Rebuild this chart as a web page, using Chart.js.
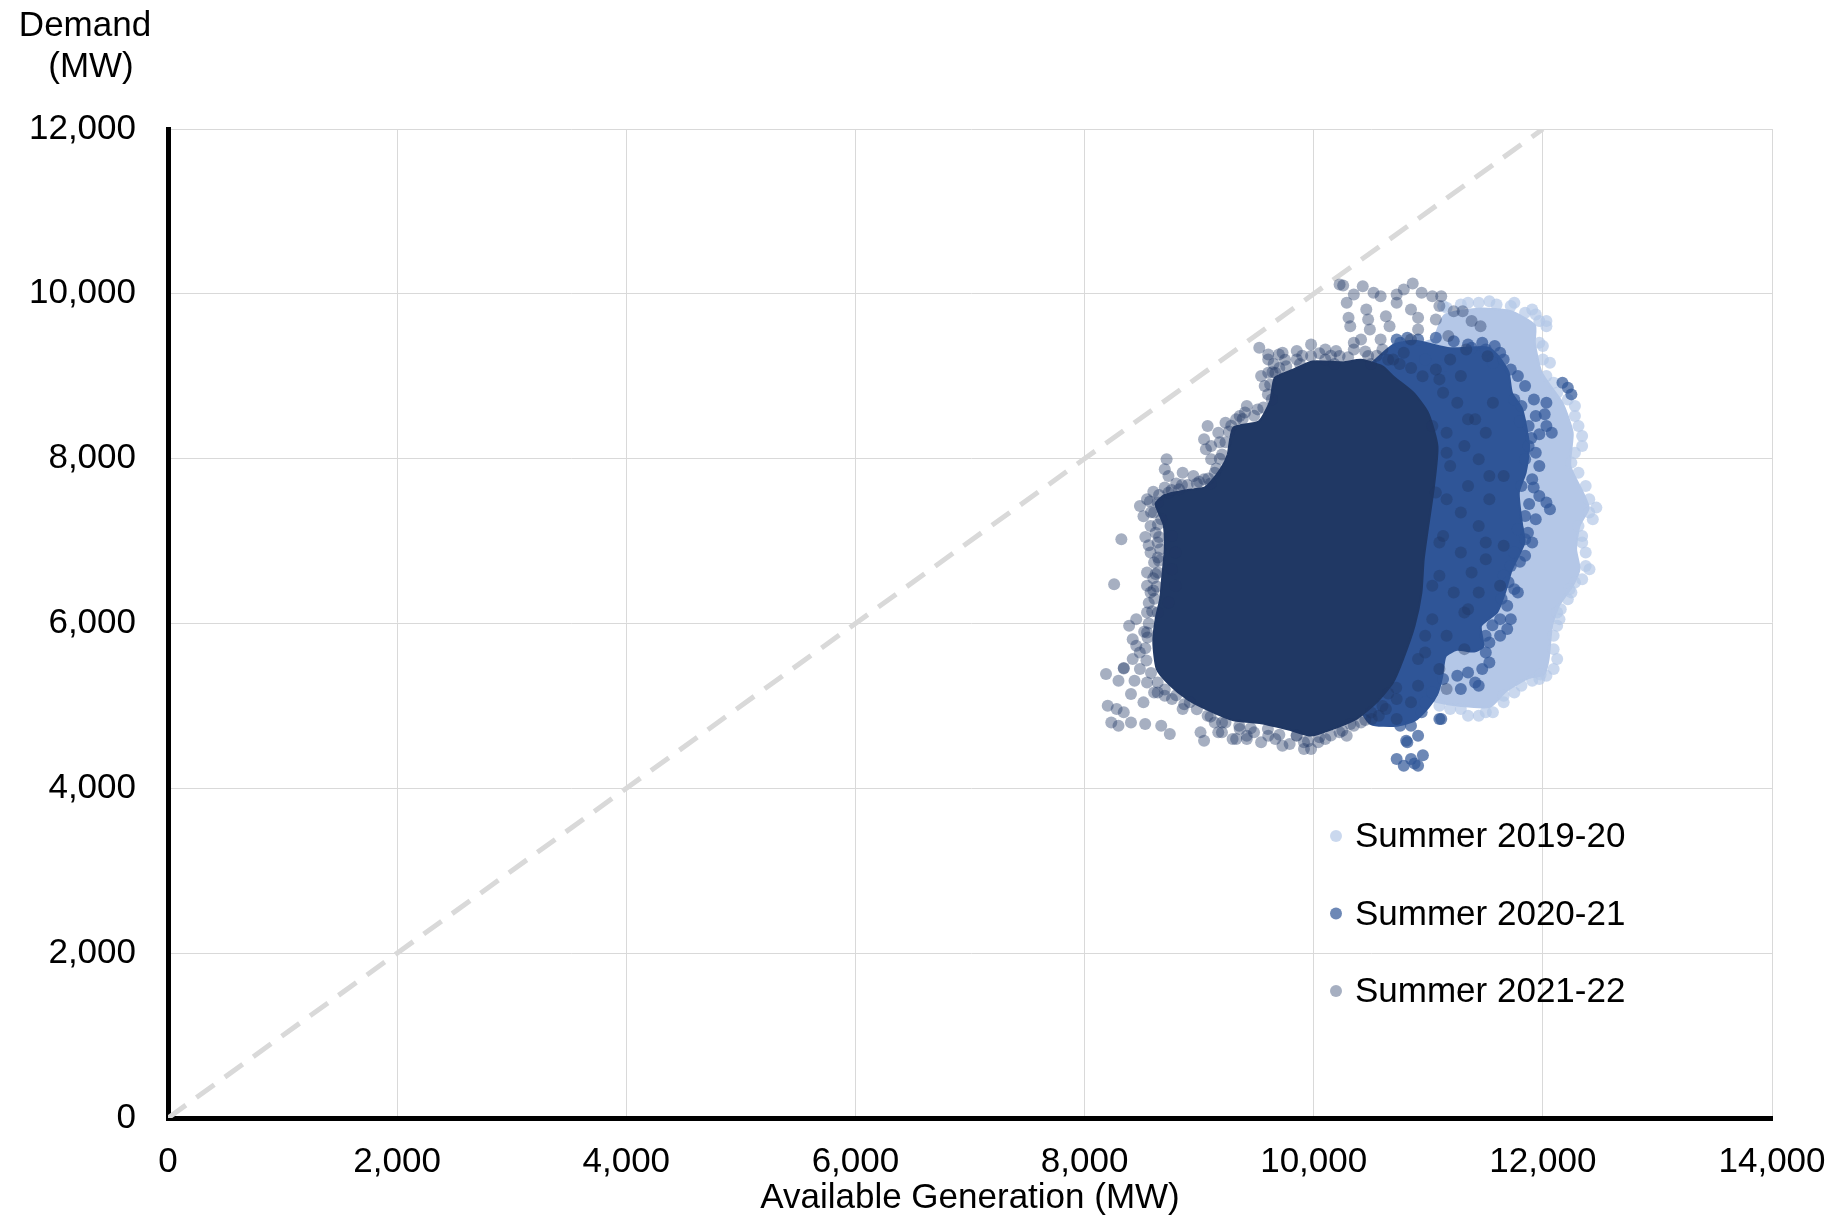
<!DOCTYPE html>
<html><head><meta charset="utf-8">
<script src="https://cdn.jsdelivr.net/npm/chart.js@4/dist/chart.umd.min.js"></script>
<style>html,body{margin:0;padding:0;background:#fff;}#wrap{width:1840px;height:1222px;}</style>
</head><body><div id="wrap"><canvas id="c" width="1840" height="1222"></canvas></div>
<script>
// ---------- DATA (MW) ----------
const seriesLabels = ['Summer 2019-20', 'Summer 2020-21', 'Summer 2021-22'];
const xTickLabels = ['0', '2,000', '4,000', '6,000', '8,000', '10,000', '12,000', '14,000'];
const yTickLabels = ['0', '2,000', '4,000', '6,000', '8,000', '10,000', '12,000'];
const xAxisTitle = 'Available Generation (MW)';
const yAxisTitleLines = ['Demand', '(MW)'];
const parityLine = [[0, 0], [12000, 12000]];

// dense body of each season's cloud (outline of the solid region)
const summer1920Body = [[11050,9450],[11140,9740],[11440,9820],[11720,9790],[11930,9620],[11930,9406],[11990,9042],[12170,8679],[12260,8315],[12240,7911],[12350,7588],[12400,7400],[12320,7184],[12290,6901],[12320,6659],[12260,6457],[12140,6215],[12080,5972],[12050,5568],[12010,5380],[11880,5340],[11680,5180],[11540,4990],[11284,5000],[11035,5060],[10800,5150],[10800,9300],[11050,9450]];
const summer2021Body = [[10500,9150],[10693,9380],[10880,9430],[11191,9340],[11520,9350],[11620,9230],[11700,9050],[11730,8800],[11820,8600],[11880,8154],[11850,7831],[11790,7588],[11820,7184],[11840,6982],[11730,6659],[11670,6376],[11600,6134],[11460,5972],[11480,5720],[11400,5660],[11250,5680],[11150,5600],[11120,5350],[11080,5150],[11000,4980],[10880,4820],[10724,4760],[10500,4780],[10400,5000],[10500,9150]];
const summer2122Body = [[9250,8050],[9300,8380],[9520,8450],[9620,8700],[9660,8980],[9820,9080],[9990,9180],[10257,9170],[10413,9200],[10600,9120],[10700,8990],[10870,8800],[11000,8550],[11080,8150],[11050,7669],[11000,7184],[10960,6780],[10940,6376],[10880,5972],[10780,5568],[10690,5280],[10560,5060],[10380,4850],[10163,4720],[9977,4640],[9790,4710],[9541,4790],[9292,4830],[9080,4950],[8900,5080],[8740,5260],[8630,5450],[8600,5770],[8620,6050],[8660,6300],[8680,6600],[8700,6900],[8690,7200],[8620,7450],[8700,7560],[8900,7620],[9050,7650],[9150,7800],[9220,7950],[9250,8050]];

// individual observations on the edges of each cloud
const summer1920Points = [
[11160,9830],[11284,9871],[11440,9891],[11596,9871],[11720,9851],[11845,9770],[11969,9669],[12031,9669],[11969,9406],[12000,9204],[12031,9002],[12125,8800],[12280,8638],[12311,8396],[12343,8154],[12249,7952],[12374,7669],[12467,7406],[12405,7346],[12311,7184],[12343,6982],[12374,6699],[12280,6497],[12218,6295],[12125,6134],[12094,5851],[12125,5568],[12031,5366],[11907,5305],[11751,5164],[11658,5043],[11564,4922],[11440,4881],[11284,4962],[11097,5003],[10973,5083],[9012,7507],[8825,6578],[12407,6659],[12233,6416],[12145,6053],[11980,5380],
[11907,9810],[12031,9608],[12000,9366],[12062,9164],[12094,8921],[12218,8719],[12280,8517],[12343,8275],[12280,8073],[12311,7830],[12405,7507],[12436,7265],[12343,7063],[12374,6861],[12343,6538],[12249,6376],[12156,6174],[12125,5972],[12094,5689],[12094,5447],[11969,5326],[11813,5245],[11658,5124],[11502,4922],[11347,4881],[11191,4962],[11129,9851],[11347,9891],[11533,9911],[11751,9891],[11938,9749]
];
const summer2021Points = [
[10724,9447],[10817,9467],[11066,9467],[11347,9386],[11471,9406],[11580,9366],[11564,9164],[11720,9083],[11129,9123],[10973,9204],[11845,8881],[11922,8719],[12031,8679],[12016,8538],[12031,8396],[11969,8295],[12078,8315],[12171,8921],[12218,8861],[12249,8780],[11813,8638],[11938,8517],[11876,8154],[11969,7911],[11907,7750],[11969,7548],[12031,7467],[12062,7386],[11845,7305],[11782,7144],[11907,6982],[11845,6821],[11720,6699],[11751,6417],[11689,6214],[11720,6053],[11627,5851],[11502,5649],[11471,5447],[11409,5285],[11347,5406],[11253,5366],[11129,5326],[11113,4841],[10942,4922],[10849,4760],[10755,4760],[10911,4639],[10817,4558],[10724,4356],[10786,4275],[10849,4356],[10911,4275],[11097,4841],[10807,4578],[10953,4400],[10880,4300],
[11658,9204],[11782,9002],[11751,8719],[11876,8396],[11845,7992],[11938,8073],[11813,7669],[11938,7265],[11845,7023],[11751,6861],[11658,6578],[11782,6376],[11627,6053],[11689,5932],[11533,5770],[11533,5528],[11440,5245],[11284,5205],[11035,5164],[10973,5043],[10755,9406],[10911,9447],[11222,9426],[11378,9345],[11502,9325],[11627,9285],
[11800,8450],[11900,8250],[11920,7650],[11880,7450],[11870,7100],[11800,6750],[11700,6500],[11640,6300],[11560,5980],[11500,5850]
];
const summer2122Points = [
[10226,10113],[10257,10101],[10350,9992],[10428,10093],[10522,10012],[10584,9972],[10288,9891],[10304,9709],[10319,9608],[10459,9810],[10475,9689],[10490,9568],[10413,9447],[10350,9406],[10630,9729],[10724,9992],[10786,10053],[10864,10125],[10724,9891],[10849,9810],[10911,9709],[10942,10012],[11035,9972],[11113,9972],[11097,9851],[11066,9689],[11222,9790],[11300,9790],[11378,9669],[11456,9608],[10911,9568],[10849,9447],[11175,9487],[11331,9325],[11518,9244],[10662,9608],[10584,9447],
[9525,9346],[9603,9265],[9696,9265],[9852,9305],[9977,9386],[10101,9325],[10195,9305],[9603,9042],[9572,8881],[9634,8719],[9510,8598],[9354,8517],[9230,8437],[9074,8396],[9043,8235],[9059,8113],[9105,7992],[9136,7830],
[9603,9204],[9728,9285],[9852,9204],[9977,9245],[10101,9204],[10226,9245],[10350,9325],[10475,9245],[10600,9325],[10693,9204],[10786,9285],[9665,9043],[9541,9002],[9416,8638],[9323,8477],[9167,8315],[9105,8154],
[9650,9150],[9750,9200],[9900,9250],[10050,9280],[10150,9250],[10300,9230],[10450,9300],[10550,9250],[10650,9200],[10750,9150],[10850,9100],[10950,9000],[9700,9100],[9880,9150],[10180,9150],[10500,9150],[9400,8560],[9280,8400],[9180,8200],[9180,8000],
[8716,7992],[8700,7871],[8732,7790],[8856,7830],[8950,7790],[9043,7750],[8483,7427],[8545,7507],[8638,7467],[8732,7588],[8825,7629],[8607,7346],[8669,7265],[8576,7184],[8638,6982],[8576,6861],[8607,6740],[8545,6619],[8576,6376],[8545,6457],[8321,7023],[8258,6477],[8763,7063],[8794,6861],[8763,6659],[8794,6457],[8732,6255],[8389,5972],[8451,6053],[8545,6134],[8638,6134],[8420,5810],[8482,5649],
[8514,7300],[8530,7050],[8560,6950],[8600,6550],[8560,6250],[8520,5900],[8600,7600],[8700,7650],[8800,7700],[8900,7680],[9000,7720],[9100,7700],[8620,7100],[8640,6800],[8620,6600],[8600,6400],
[8650,7560],[8760,7620],[8850,7680],[8980,7700],[9080,7760],[9150,7880],[9200,8050],[9230,8200],[9260,8330],[9380,8480],[9480,8520],[9560,8620],[9600,8780],[9620,8900],[9640,9050],[9760,9120],
[8580,5400],[8540,5550],[8530,5700],[8550,5830],[8560,6000],[8590,6150],[8610,6300],[8630,6450],[8640,6620],[8650,6760],[8660,6900],[8650,7050],[8640,7200],[8580,7350],[8570,7480],
[8700,5200],[8800,5130],[8870,5020],[8980,4960],[9100,4870],[9200,4800],[9350,4760],[9450,4730],[9600,4720],[9700,4650],[9850,4640],[9950,4570],[10050,4620],[10150,4640],[10250,4700],[10320,4780],[10450,4830],[10500,4920],[10600,5000],[10650,5150],[10720,5220],
[8342,5455],[8342,5460],[8187,5386],[8296,5305],[8436,5305],[8638,5285],[8607,5164],[8700,5124],[8405,5144],[8202,5003],[8280,4962],[8342,4922],[8233,4800],[8296,4760],[8405,4800],[8514,5043],[8529,4780],[8669,4760],[8744,4659],[9012,4679],[9043,4578],[9136,4800],[9199,4679],[9323,4598],[9416,4598],[9603,4639],[9790,4538],[9915,4558],[9977,4477],[10101,4598],[10288,4639],[10413,4800],[10568,4881],
[8918,5043],[9074,4881],[9230,4800],[9354,4720],[9479,4679],[9665,4598],[9852,4639],[10039,4558],[10226,4679],[10350,4760],[10506,4841],[10630,4962],[10724,5083],[9541,4558],[9727,4518],[9915,4477],[9416,4639],[9167,4679],[9292,4598],
[8483,5447],[8545,5285],[8638,5164],[8763,5083],[8856,4962],[8420,5568],[8451,5730],[8545,5891],
[11066,9083],[11191,9204],[11284,9002],[11129,8800],[11253,8679],[11347,8477],[11160,8315],[11315,8154],[11440,7992],[11191,7911],[11347,7669],[11160,7507],[11284,7346],[11440,7184],[11129,7063],[11284,6861],[11378,6619],[11097,6578],[11222,6376],[11347,6174],[11035,6053],[11160,5851],[11315,5689],[10973,5649],[11097,5447],[10911,5245],[10849,5043],[10724,4841],[11564,8679],[11502,8315],[11658,7790],[11533,7507],[11658,6942],[11502,6780],[11627,6457],
[11097,8962],[11035,8396],[11160,8073],[11066,7588],[11097,6982],[11035,6457],[10973,5851],[10911,5568],[11160,5205],[11315,6134],[11440,6376],[11502,6982],[11533,7790],[11409,8477]
];

// ---------- CHART ----------
const FONT = "'Liberation Sans', Arial, sans-serif";
Chart.defaults.font.family = FONT;
Chart.defaults.font.size = 35;
Chart.defaults.color = '#000';

const toXY = arr => arr.map(p => ({x: p[0], y: p[1]}));
const pointColors = ['rgba(180,199,231,0.7)', 'rgba(47,85,151,0.7)', 'rgba(32,56,100,0.4)'];
const bodyColors = ['rgb(180,199,231)', 'rgb(47,85,151)', 'rgb(32,56,100)'];
const bodies = [summer1920Body, summer2021Body, summer2122Body];
const points = [summer1920Points, summer2021Points, summer2122Points];

const datasets = [{
  label: 'parity', data: toXY(parityLine), showLine: true, fill: false,
  borderColor: '#d9d9d9', borderWidth: 5, borderDash: [22, 13], pointRadius: 0, order: 10, isHelper: true
}];
for (let i = 0; i < 3; i++) {
  datasets.push({
    label: seriesLabels[i] + ' body', data: toXY(bodies[i]), showLine: true, fill: 'shape',
    backgroundColor: bodyColors[i], borderColor: bodyColors[i], borderWidth: 2,
    borderJoinStyle: 'round', tension: 0.2, pointRadius: 0, order: 9 - i * 2, isHelper: true
  });
  datasets.push({
    label: seriesLabels[i], data: toXY(points[i]),
    backgroundColor: pointColors[i], borderWidth: 0, pointRadius: 6, order: 8 - i * 2
  });
}

const extras = {
  id: 'extras',
  afterDraw(chart) {
    const ctx = chart.ctx;
    ctx.save();
    ctx.font = '35px ' + FONT;
    ctx.fillStyle = '#000';
    ctx.textAlign = 'center';
    ctx.textBaseline = 'alphabetic';
    ctx.fillText(yAxisTitleLines[0], 85, 36);
    ctx.fillText(yAxisTitleLines[1], 91, 77);
    const legendSets = chart.data.datasets.filter(d => !d.isHelper);
    ctx.textAlign = 'left';
    legendSets.forEach((ds, i) => {
      const cy = 836 + i * 77.5;
      ctx.beginPath();
      ctx.arc(1336, cy, 6, 0, Math.PI * 2);
      ctx.fillStyle = ds.backgroundColor;
      ctx.fill();
      ctx.fillStyle = '#000';
      ctx.fillText(ds.label, 1355, cy + 11);
    });
    ctx.restore();
  }
};

new Chart(document.getElementById('c'), {
  type: 'scatter',
  data: {datasets},
  plugins: [extras],
  options: {
    responsive: false, animation: false, devicePixelRatio: 1,
    layout: {autoPadding: false, padding: {left: 0, right: 68, top: 129, bottom: 0}},
    plugins: {legend: {display: false}, tooltip: {enabled: false}},
    scales: {
      x: {
        type: 'linear', min: 0, max: 14000,
        ticks: {stepSize: 2000, padding: 23, maxRotation: 0, callback: (v, i) => xTickLabels[i]},
        grid: {color: '#d9d9d9', lineWidth: 1, drawTicks: false},
        border: {display: true, color: '#000', width: 5},
        title: {display: true, text: xAxisTitle, font: {size: 35}, padding: {top: 0, bottom: 3}},
        afterFit: s => { s.height = 104; s.paddingLeft = 0; s.paddingRight = 0; }
      },
      y: {
        type: 'linear', min: 0, max: 12000,
        ticks: {stepSize: 2000, padding: 32, callback: (v, i) => yTickLabels[i]},
        grid: {color: '#d9d9d9', lineWidth: 1, drawTicks: false},
        border: {display: true, color: '#000', width: 5},
        afterFit: s => { s.width = 168; s.paddingTop = 0; s.paddingBottom = 0; }
      }
    }
  }
});
</script></body></html>
